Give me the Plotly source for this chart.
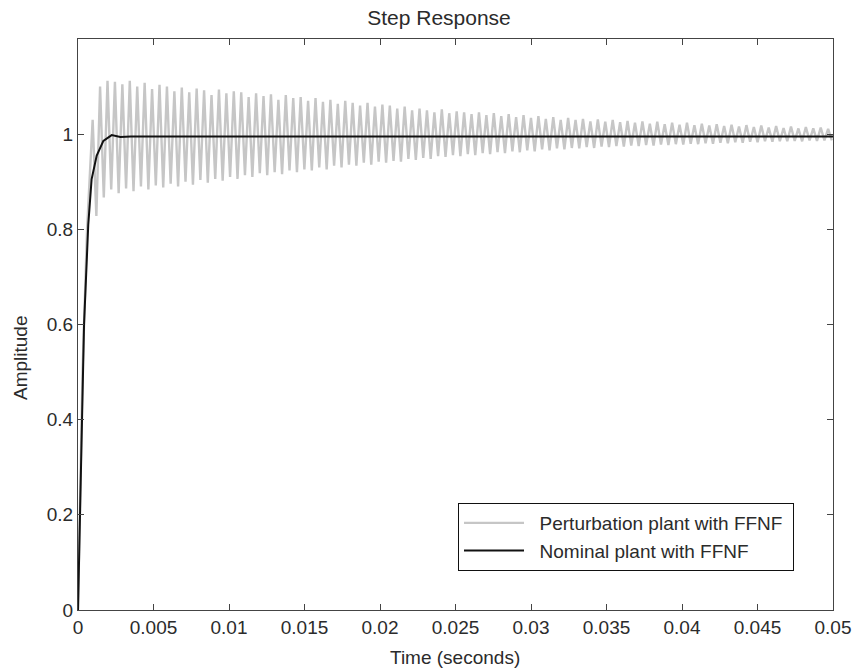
import numpy as np
import plotly.graph_objects as go

# ---------------- data ----------------
# Nominal plant with FFNF (black)
nominal_t = [0, 0.00013, 0.00025, 0.0004, 0.00068, 0.0009, 0.00124, 0.00168,
             0.00223, 0.0028, 0.0035, 0.05]
nominal_y = [0, 0.2, 0.4, 0.6, 0.81, 0.905, 0.955, 0.986,
             0.998, 0.994, 0.995, 0.995]

# Perturbation plant with FFNF (gray): initial rise
pert_rise_t = [0, 0.0003, 0.0006]
pert_rise_y = [0, 0.5, 0.8]

# oscillation: time of first peak and spacing between peaks (seconds)
first_peak_time = 0.00097
peak_spacing = 0.000492

pert_peaks = [
    1.030, 1.100, 1.112, 1.110, 1.105, 1.112, 1.100, 1.108, 1.095, 1.104,
    1.100, 1.090, 1.098, 1.088, 1.096, 1.092, 1.082, 1.094, 1.086, 1.090,
    1.088, 1.078, 1.086, 1.080, 1.084, 1.072, 1.082, 1.076, 1.078, 1.070,
    1.076, 1.068, 1.072, 1.064, 1.070, 1.066, 1.060, 1.066, 1.058, 1.062,
    1.060, 1.054, 1.058, 1.050, 1.054, 1.050, 1.046, 1.052, 1.044, 1.048,
    1.046, 1.042, 1.046, 1.040, 1.044, 1.038, 1.042, 1.036, 1.040, 1.034,
    1.038, 1.032, 1.036, 1.030, 1.034, 1.030, 1.032, 1.027, 1.031, 1.026,
    1.030, 1.025, 1.028, 1.024, 1.027, 1.022, 1.026, 1.021, 1.024, 1.020,
    1.024, 1.019, 1.022, 1.018, 1.021, 1.017, 1.020, 1.016, 1.019, 1.015,
    1.018, 1.014, 1.017, 1.013, 1.016, 1.012, 1.015, 1.012, 1.014, 1.011,
]
pert_troughs = [
    0.828, 0.867, 0.884, 0.876, 0.886, 0.880, 0.890, 0.884, 0.892, 0.888,
    0.896, 0.890, 0.900, 0.894, 0.904, 0.898, 0.906, 0.902, 0.910, 0.906,
    0.914, 0.910, 0.918, 0.914, 0.920, 0.916, 0.924, 0.920, 0.926, 0.924,
    0.930, 0.926, 0.934, 0.930, 0.936, 0.934, 0.940, 0.936, 0.942, 0.940,
    0.944, 0.942, 0.948, 0.946, 0.950, 0.948, 0.954, 0.952, 0.956, 0.954,
    0.958, 0.956, 0.960, 0.958, 0.962, 0.960, 0.964, 0.962, 0.966, 0.964,
    0.968, 0.966, 0.970, 0.968, 0.971, 0.970, 0.973, 0.971, 0.974, 0.973,
    0.975, 0.974, 0.976, 0.975, 0.977, 0.976, 0.978, 0.977, 0.979, 0.978,
    0.980, 0.979, 0.981, 0.980, 0.982, 0.981, 0.983, 0.982, 0.984, 0.983,
    0.985, 0.984, 0.985, 0.985, 0.986, 0.985, 0.987, 0.986, 0.987, 0.987,
]

series_names = ["Perturbation plant with FFNF", "Nominal plant with FFNF"]

x_ticks = [0, 0.005, 0.01, 0.015, 0.02, 0.025, 0.03, 0.035, 0.04, 0.045, 0.05]
x_tick_text = ["0", "0.005", "0.01", "0.015", "0.02", "0.025", "0.03",
               "0.035", "0.04", "0.045", "0.05"]
y_ticks = [0, 0.2, 0.4, 0.6, 0.8, 1]
y_tick_text = ["0", "0.2", "0.4", "0.6", "0.8", "1"]

# ---------------- build gray series ----------------
pk_t = first_peak_time + peak_spacing * np.arange(len(pert_peaks))
tr_t = pk_t + peak_spacing / 2
pert_t = list(pert_rise_t)
pert_y = list(pert_rise_y)
for a, b, c, d in zip(pk_t, pert_peaks, tr_t, pert_troughs):
    pert_t += [a, c]
    pert_y += [b, d]

FONT = "Liberation Sans, Arial, sans-serif"
TXT = "#2b2b2b"
AX = "#444444"
PAD_L = "\u00a0\u00a0"
PAD_R = "\u00a0"

fig = go.Figure()
fig.add_trace(go.Scatter(x=pert_t, y=pert_y, mode="lines",
                         line=dict(color="#c6c6c6", width=2.4),
                         name=PAD_L + series_names[0] + PAD_R))
fig.add_trace(go.Scatter(x=nominal_t, y=nominal_y, mode="lines",
                         line=dict(color="#111111", width=2),
                         name=PAD_L + series_names[1] + PAD_R))

PW = 755.0
fig.update_layout(
    width=853, height=671,
    margin=dict(l=78, r=20, t=39, b=61, autoexpand=False),
    paper_bgcolor="white", plot_bgcolor="white",
    font=dict(family=FONT, size=19, color=TXT),
    showlegend=True,
    legend=dict(x=(458 - 78) / PW, y=(610 - 503) / 571, xanchor="left",
                yanchor="top",
                bgcolor="white", bordercolor="#111111", borderwidth=1,
                font=dict(family=FONT, size=19, color=TXT),
                tracegroupgap=0, itemwidth=60),
    title=dict(text="Step Response", x=439 / 853, xanchor="center",
               y=1 - 18 / 671, yanchor="middle",
               font=dict(family=FONT, size=21, color=TXT)),
    xaxis=dict(range=[0, 0.05], tickvals=x_ticks, ticktext=x_tick_text,
               automargin=False, ticklabeloverflow="allow",
               showgrid=False, zeroline=False, showline=True, linecolor=AX,
               linewidth=1, mirror="allticks", ticks="inside", ticklen=6,
               tickcolor=AX, tickfont=dict(family=FONT, size=19, color=TXT)),
    yaxis=dict(range=[0, 1.2], tickvals=y_ticks, ticktext=y_tick_text,
               automargin=False,
               showgrid=False, zeroline=False, showline=True, linecolor=AX,
               linewidth=1, mirror="allticks", ticks="inside", ticklen=6,
               tickcolor=AX, tickfont=dict(family=FONT, size=19, color=TXT)),
    annotations=[
        dict(text="Time (seconds)", xref="paper", yref="paper",
             x=(455 - 78) / PW,
             y=-(657 - 610) / 571, xanchor="center", yanchor="middle",
             showarrow=False, font=dict(family=FONT, size=19, color=TXT)),
        dict(text="Amplitude", xref="paper", yref="paper",
             x=-(78 - 20) / PW, y=(610 - 358) / 571, xanchor="center",
             yanchor="middle", textangle=-90, showarrow=False,
             font=dict(family=FONT, size=19, color=TXT)),
    ],
)

fig.write_html("out.html")
